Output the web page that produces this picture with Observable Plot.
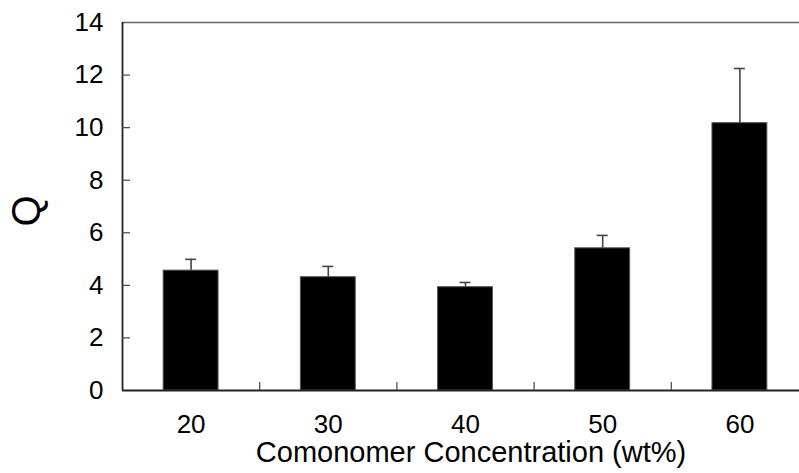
<!DOCTYPE html>
<html>
<head>
<meta charset="utf-8">
<script src="https://cdn.jsdelivr.net/npm/d3@7"></script>
<script src="https://cdn.jsdelivr.net/npm/@observablehq/plot@0.6"></script>
<style>
  html, body { margin: 0; padding: 0; background: #fff; overflow: hidden; }
</style>
</head>
<body>
<div id="chart"></div>
<script>
// Data
const concentrations = [20, 30, 40, 50, 60];          // wt%
const qValues        = [4.56, 4.31, 3.93, 5.41, 10.17];
const qErrors        = [0.43, 0.41, 0.18, 0.49, 2.08];
const yTicks         = [0, 2, 4, 6, 8, 10, 12, 14];
const xTickLabels    = [20, 30, 40, 50, 60];
const xBoundaryTicks = [25, 35, 45, 55];
const xTitle = "Comonomer Concentration (wt%)";
const yTitle = "Q";

const data = concentrations.map((c, i) => ({c, q: qValues[i], err: qErrors[i]}));
const halfBar = 2;     // bar half-width in x units (bar = 40% of the 10-unit category step)
const halfCap = 0.4;   // error-bar cap half-width in x units

const font = "Liberation Sans, Arial, Helvetica, sans-serif";

const chart = Plot.plot({
  width: 799,
  height: 473,
  marginTop: 22,
  marginBottom: 83,
  marginLeft: 122,
  marginRight: 0,
  style: {fontFamily: font, color: "#000", background: "#fff"},
  x: {type: "linear", domain: [15, 65], range: [122, 808]},
  y: {domain: [0, 14]},
  marks: [
    // bars
    Plot.rectY(data, {x1: d => d.c - halfBar, x2: d => d.c + halfBar, y1: 0, y2: "q", fill: "#000", stroke: "#555", strokeWidth: 1}),
    // error bars
    Plot.ruleX(data, {x: "c", y1: "q", y2: d => d.q + d.err, stroke: "#444", strokeWidth: 1.6}),
    Plot.ruleY(data, {y: d => d.q + d.err, x1: d => d.c - halfCap, x2: d => d.c + halfCap, stroke: "#444", strokeWidth: 1.6}),
    // frame lines
    Plot.ruleY([14], {stroke: "#666", strokeWidth: 1.6}),
    Plot.ruleY([0], {stroke: "#222", strokeWidth: 1.8}),
    Plot.ruleX([15], {stroke: "#222", strokeWidth: 1.8}),
    // y axis: inward ticks + labels
    Plot.axisY({ticks: yTicks.slice(1, -1), tickSize: -8, tickFormat: () => "", label: null, stroke: "#444", strokeWidth: 1.2}),
    Plot.axisY({ticks: yTicks, tickSize: 0, tickPadding: 19, fontSize: 26, label: null, fill: "#000"}),
    // x axis: inward ticks between categories + labels
    Plot.axisX({ticks: xBoundaryTicks, tickSize: -8, tickFormat: () => "", label: null, stroke: "#444", strokeWidth: 1.2}),
    Plot.axisX({ticks: xTickLabels, tickSize: 0, tickPadding: 24, fontSize: 26, label: null, fill: "#000"}),
    // axis titles
    Plot.text([xTitle], {frameAnchor: "bottom", dx: 10, dy: 71, fontSize: 29, fill: "#000"}),
    Plot.text([yTitle], {frameAnchor: "left", dx: -95, dy: 20, rotate: -90, fontSize: 40, fill: "#000"})
  ]
});
document.getElementById("chart").appendChild(chart);
</script>
</body>
</html>
